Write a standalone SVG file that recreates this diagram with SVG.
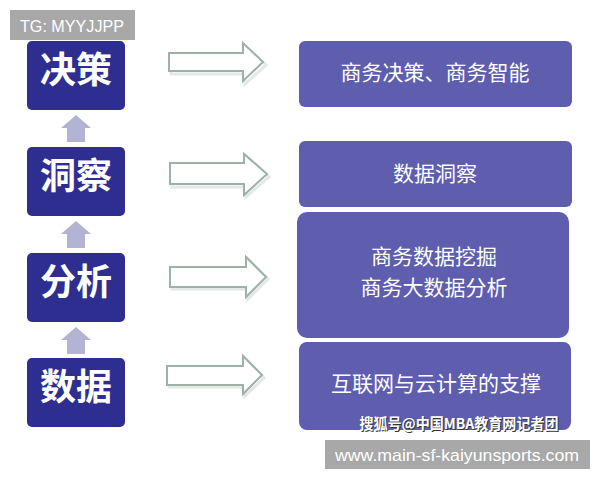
<svg xmlns="http://www.w3.org/2000/svg" width="600" height="480" viewBox="0 0 600 480">
<defs>
<style>
.lbox{fill:#2E2E91}
.ltxt{fill:#fff;font-family:"Noto Sans CJK SC","Noto Sans",sans-serif;font-weight:bold;font-size:36px;text-anchor:middle}
.rbox{fill:#5E5DAE}
.rtxt{fill:#fff;font-family:"Noto Sans CJK SC","Noto Sans",sans-serif;font-size:21px;text-anchor:middle}
.up{fill:#B3B3D3}
.ha{fill:#fff;stroke:#9DB2A6;stroke-width:2}
.has{fill:none;stroke:#E4E8E6;stroke-width:3}
.gray{fill:#A8A8A8}
.wm{fill:#fff;font-family:"Liberation Sans","Noto Sans",sans-serif}
</style>
</defs>
<rect width="600" height="480" fill="#fff"/>
<g id="tg">
<rect class="gray" x="10" y="10" width="125" height="30"/>
<text class="wm" x="72" y="32" font-size="17" text-anchor="middle" textLength="104" lengthAdjust="spacingAndGlyphs">TG: MYYJJPP</text>
</g>
<g id="n-juece"><rect class="lbox" x="27" y="41" width="98" height="69" rx="5"/><text class="ltxt" x="76" y="83">决策</text></g>
<g id="n-dongcha"><rect class="lbox" x="27" y="147" width="98" height="69" rx="5"/><text class="ltxt" x="76" y="189">洞察</text></g>
<g id="n-fenxi"><rect class="lbox" x="27" y="253" width="98" height="69" rx="5"/><text class="ltxt" x="76" y="295">分析</text></g>
<g id="n-shuju"><rect class="lbox" x="27" y="358" width="98" height="69" rx="5"/><text class="ltxt" x="76" y="400">数据</text></g>
<g id="r1"><rect class="rbox" x="299" y="41" width="273" height="66" rx="6"/><text class="rtxt" x="435" y="80">商务决策、商务智能</text></g>
<g id="r2"><rect class="rbox" x="299" y="141" width="273" height="66" rx="6"/><text class="rtxt" x="435" y="181">数据洞察</text></g>
<g id="r3"><rect class="rbox" x="297" y="212" width="272" height="126" rx="10"/><text class="rtxt" x="434" y="264">商务数据挖掘</text><text class="rtxt" x="434" y="295">商务大数据分析</text></g>
<g id="r4"><rect class="rbox" x="299" y="342" width="272" height="88" rx="8"/><text class="rtxt" x="436" y="391">互联网与云计算的支撑</text></g>
<g id="connectors">
<polygon class="up" points="61,128 76,115 91,128 85,128 85,142 67,142 67,128"/>
<polygon class="up" points="61,234 76,221 91,234 85,234 85,248 67,248 67,234"/>
<polygon class="up" points="61,340 76,327 91,340 85,340 85,354 67,354 67,340"/>
<polygon class="has" points="171,56 245,56 245,46 266,65 245,84 245,74 171,74"/>
<polygon class="ha" points="169,53 243,53 243,43 263,62 243,81 243,71 169,71"/>
<polygon class="has" points="172,165 246,165 246,156 269,177 246,197 246,187 172,187"/>
<polygon class="ha" points="170,163 244,163 244,154 267,174 244,195 244,184 170,184"/>
<polygon class="has" points="172,269 248,269 248,259 268,279 248,299 248,289 172,289"/>
<polygon class="ha" points="170,267 246,267 246,257 266,277 246,297 246,287 170,287"/>
<polygon class="has" points="169,368 245,368 245,358 264,378 245,396 245,387 169,387"/>
<polygon class="ha" points="167,366 243,366 243,356 262,375 243,394 243,385 167,385"/>
</g>
<g id="watermark">
<text x="459" y="429" font-family="Noto Sans CJK SC,sans-serif" font-weight="bold" font-size="15" text-anchor="middle" fill="#333" textLength="199" lengthAdjust="spacingAndGlyphs" transform="translate(1,1)">搜狐号@中国MBA教育网记者团</text>
<text x="459" y="429" font-family="Noto Sans CJK SC,sans-serif" font-weight="bold" font-size="15" text-anchor="middle" fill="#fff" textLength="199" lengthAdjust="spacingAndGlyphs">搜狐号@中国MBA教育网记者团</text>
<rect class="gray" x="325" y="440" width="265" height="29"/>
<text class="wm" x="457" y="461" font-size="17" text-anchor="middle" textLength="244" lengthAdjust="spacingAndGlyphs">www.main-sf-kaiyunsports.com</text>
</g>
</svg>
